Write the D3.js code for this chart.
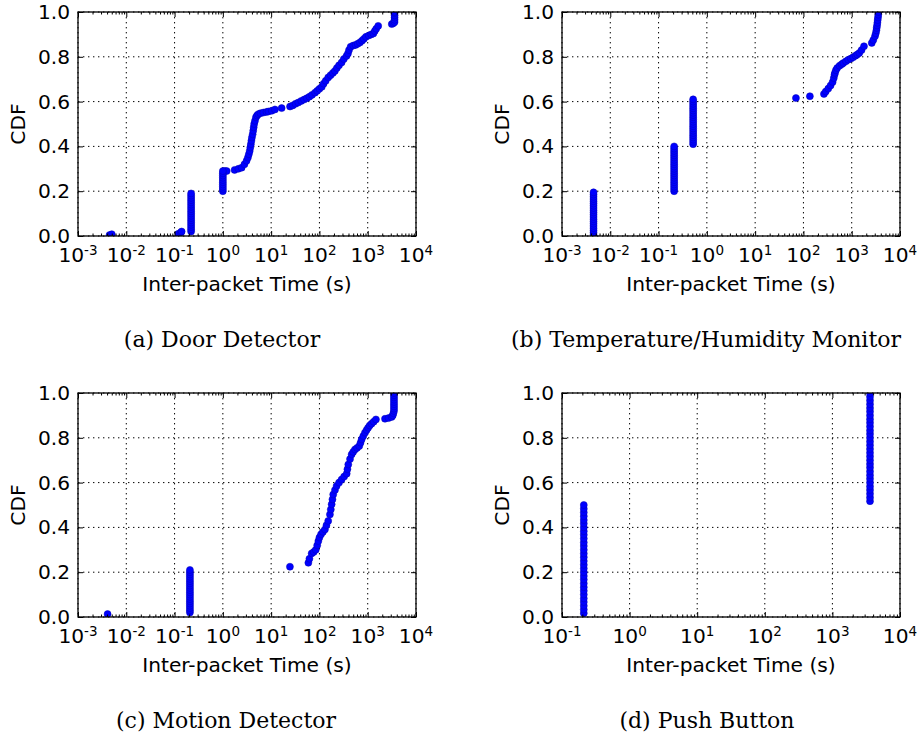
<!DOCTYPE html>
<html lang="en">
<head>
<meta charset="UTF-8" />
<title>Inter-packet Time CDF</title>
<script src="https://d3js.org/d3.v7.min.js"></script>
<style>
  body { margin: 0; background: #fff; }
  .grid line { stroke: #000; stroke-width: 1; stroke-dasharray: 1.4, 3.6; }
  .frame { fill: none; stroke: #000; stroke-width: 1.3; }
  .tick line { stroke: #000; stroke-width: 1; }
  .dot { fill: #0000ff; stroke: #0000b4; stroke-width: 0.5; }
</style>
</head>
<body>
<div id="chart"></div>
<script>
// ---- data ----
var yTicks = [0, 0.2, 0.4, 0.6, 0.8, 1.0];
var xLabel = "Inter-packet Time (s)";
var yLabel = "CDF";
var captions = ["(a) Door Detector", "(b) Temperature/Humidity Monitor", "(c) Motion Detector", "(d) Push Button"];
var xDomains = [[1e-3, 1e4], [1e-3, 1e4], [1e-3, 1e4], [1e-1, 1e4]];

// (a) door detector: single points [seconds, cdf] and vertical runs [seconds, [cdf...]]
var doorPoints = [
  [0.0045, 0.004], [0.005, 0.008], [0.12, 0.01], [0.135, 0.016], [0.14, 0.02],
  [1.1, 0.29], [1.2, 0.29], [1.75, 0.295], [2.1, 0.3], [2.45, 0.305], [2.8, 0.32],
  [3.1, 0.336], [3.3, 0.35], [3.45, 0.365], [3.6, 0.38], [3.7, 0.395], [3.8, 0.41],
  [3.9, 0.425], [4.0, 0.44], [4.14, 0.454], [4.25, 0.47], [4.35, 0.485], [4.45, 0.5],
  [4.63, 0.514], [4.85, 0.53], [5.1, 0.538], [5.42, 0.544], [6.0, 0.548], [6.9, 0.551],
  [8.0, 0.554], [8.8, 0.556], [10.3, 0.559], [12, 0.565], [16.5, 0.571], [24.6, 0.578],
  [28, 0.583], [32, 0.59], [36.5, 0.596], [42, 0.603], [48, 0.609], [54.5, 0.615],
  [62, 0.622], [70, 0.63], [81, 0.64], [90, 0.648], [100, 0.657], [112, 0.666],
  [122, 0.68], [135, 0.693], [152, 0.708], [170, 0.718], [190, 0.728], [209, 0.737],
  [230, 0.75], [255, 0.762], [288, 0.775], [320, 0.79], [364, 0.804], [390, 0.815],
  [410, 0.83], [443, 0.845], [500, 0.85], [560, 0.853], [620, 0.858], [690, 0.864],
  [760, 0.872], [830, 0.88], [918, 0.889], [1050, 0.895], [1180, 0.9], [1310, 0.904],
  [1400, 0.915], [1500, 0.925], [1650, 0.938], [3150, 0.946], [3400, 0.95]
];
var doorRuns = [
  [0.22, [0.02, 0.03, 0.04, 0.05, 0.06, 0.07, 0.08, 0.09, 0.1, 0.11, 0.12, 0.13, 0.14, 0.15, 0.16, 0.17, 0.18, 0.19]],
  [1.0, [0.2, 0.21, 0.22, 0.23, 0.24, 0.25, 0.26, 0.27, 0.28, 0.29]],
  [3600, [0.955, 0.965, 0.975, 0.985, 0.995, 1.0]]
];

// (b) temperature / humidity monitor
var tempPoints = [
  [70, 0.616], [136, 0.624],
  [266, 0.634], [290, 0.645], [327, 0.658], [365, 0.672], [403, 0.6875], [425, 0.705],
  [440, 0.72], [450, 0.728], [470, 0.74], [500, 0.75], [560, 0.76], [620, 0.767],
  [670, 0.772], [760, 0.78], [850, 0.787], [960, 0.792], [1070, 0.798], [1200, 0.805],
  [1300, 0.81], [1435, 0.817], [1600, 0.83], [1795, 0.847],
  [2600, 0.862], [2800, 0.875], [3030, 0.892], [3150, 0.905], [3250, 0.918], [3290, 0.929],
  [3350, 0.94], [3400, 0.952], [3450, 0.964], [3500, 0.976], [3550, 0.988], [3600, 1.0]
];
var tempRuns = [
  [0.0045, [0.005, 0.015, 0.025, 0.035, 0.045, 0.055, 0.065, 0.075, 0.085, 0.095, 0.105, 0.115, 0.125, 0.135, 0.145, 0.155, 0.165, 0.175, 0.185, 0.195]],
  [0.21, [0.2, 0.21, 0.22, 0.23, 0.24, 0.25, 0.26, 0.27, 0.28, 0.29, 0.3, 0.31, 0.32, 0.33, 0.34, 0.35, 0.36, 0.37, 0.38, 0.39, 0.4]],
  [0.52, [0.41, 0.42, 0.43, 0.44, 0.45, 0.46, 0.47, 0.48, 0.49, 0.5, 0.51, 0.52, 0.53, 0.54, 0.55, 0.56, 0.57, 0.58, 0.59, 0.6, 0.61]]
];

// (c) motion detector
var motionPoints = [
  [0.0041, 0.013], [24.5, 0.2245],
  [59, 0.242], [62, 0.26], [69, 0.284], [76, 0.29], [84, 0.3], [90, 0.32], [95, 0.339],
  [100, 0.355], [108, 0.369], [118, 0.38], [130, 0.391], [140, 0.41], [152, 0.429],
  [165, 0.458], [172, 0.48], [179, 0.503], [186, 0.525], [193, 0.547], [210, 0.567],
  [227, 0.585], [255, 0.6], [288, 0.614], [325, 0.627], [367, 0.64], [380, 0.66],
  [396, 0.681], [430, 0.705], [464, 0.726], [500, 0.737], [545, 0.748], [600, 0.755],
  [668, 0.763], [710, 0.778], [750, 0.793], [810, 0.808], [877, 0.823], [950, 0.835],
  [1020, 0.845], [1100, 0.855], [1200, 0.863], [1330, 0.872], [1480, 0.882],
  [2280, 0.885], [2700, 0.888], [3130, 0.893], [3300, 0.9], [3400, 0.91]
];
var motionRuns = [
  [0.208, [0.02, 0.03, 0.04, 0.05, 0.06, 0.07, 0.08, 0.09, 0.1, 0.11, 0.12, 0.13, 0.14, 0.15, 0.16, 0.17, 0.18, 0.19, 0.2, 0.21]],
  [3500, [0.92, 0.93, 0.94, 0.95, 0.96, 0.97, 0.98, 0.99, 1.0]]
];

// (d) push button
var buttonPoints = [];
var buttonRuns = [
  [0.21, [0.017, 0.033, 0.05, 0.067, 0.083, 0.1, 0.117, 0.133, 0.15, 0.167, 0.183, 0.2, 0.217, 0.233, 0.25,
          0.267, 0.283, 0.3, 0.317, 0.333, 0.35, 0.367, 0.383, 0.4, 0.417, 0.433, 0.45, 0.467, 0.483, 0.5]],
  [3600, [0.517, 0.533, 0.55, 0.567, 0.583, 0.6, 0.617, 0.633, 0.65, 0.667, 0.683, 0.7, 0.717, 0.733, 0.75,
          0.767, 0.783, 0.8, 0.817, 0.833, 0.85, 0.867, 0.883, 0.9, 0.917, 0.933, 0.95, 0.967, 0.983, 1.0]]
];

var panelPoints = [doorPoints, tempPoints, motionPoints, buttonPoints];
var panelRuns = [doorRuns, tempRuns, motionRuns, buttonRuns];

// ---- layout ----
var W = 919, H = 737;
var width = 338, height = 224;
var origins = [{ x: 78, y: 12 }, { x: 562, y: 12 }, { x: 78, y: 393 }, { x: 562, y: 393 }];
var captionOffsetX = [144, 144, 148, 145];
var fontSize = 20.2;

var svg = d3.select("#chart").append("svg").attr("width", W).attr("height", H);

function drawPanel(i) {
  var o = origins[i];
  var g = svg.append("g").attr("transform", "translate(" + o.x + "," + o.y + ")");

  var x = d3.scaleLog().domain(xDomains[i]).range([0, width]);
  var y = d3.scaleLinear().domain([0, 1]).range([height, 0]);

  var lo = Math.round(Math.log10(xDomains[i][0])), hi = Math.round(Math.log10(xDomains[i][1]));
  var decades = d3.range(lo, hi + 1);
  var majors = decades.map((p) => Math.pow(10, p));
  var minors = [];
  decades.slice(0, -1).forEach((p) => {
    for (var k = 2; k <= 9; k++) minors.push(k * Math.pow(10, p));
  });

  // grid
  var grid = g.append("g").attr("class", "grid");
  grid.selectAll(".gx").data(majors).enter().append("line")
    .attr("x1", (d) => x(d)).attr("x2", (d) => x(d))
    .attr("y1", 0).attr("y2", height);
  grid.selectAll(".gy").data(yTicks).enter().append("line")
    .attr("x1", 0).attr("x2", width)
    .attr("y1", (d) => y(d)).attr("y2", (d) => y(d));

  // points, clipped to axes
  var clipId = "clip" + i;
  g.append("clipPath").attr("id", clipId).append("rect")
    .attr("width", width).attr("height", height);
  var pts = panelPoints[i].concat(
    panelRuns[i].flatMap((r) => r[1].map((v) => [r[0], v]))
  );
  g.append("g").attr("clip-path", "url(#" + clipId + ")")
    .selectAll("circle").data(pts).enter().append("circle")
    .attr("class", "dot")
    .attr("cx", (d) => x(d[0]))
    .attr("cy", (d) => y(d[1]))
    .attr("r", 3.5);

  // ticks (inside, all four sides)
  function ticks(axis, tr) {
    var a = g.append("g").attr("transform", tr || null).call(axis);
    a.select(".domain").remove();
    return a;
  }
  ticks(d3.axisBottom(x).tickValues(majors).tickSizeInner(-5).tickSizeOuter(0).tickFormat(""), "translate(0," + height + ")");
  ticks(d3.axisBottom(x).tickValues(minors).tickSizeInner(-2.5).tickSizeOuter(0).tickFormat(""), "translate(0," + height + ")");
  ticks(d3.axisTop(x).tickValues(majors).tickSizeInner(-5).tickSizeOuter(0).tickFormat(""));
  ticks(d3.axisTop(x).tickValues(minors).tickSizeInner(-2.5).tickSizeOuter(0).tickFormat(""));
  ticks(d3.axisRight(y).tickValues(yTicks).tickSizeInner(-5).tickSizeOuter(0).tickFormat(""), "translate(" + width + ",0)");
  var left = ticks(d3.axisLeft(y).tickValues(yTicks).tickSizeInner(-5).tickSizeOuter(0)
    .tickPadding(8).tickFormat(d3.format(".1f")));
  left.attr("font-family", "DejaVu Sans").attr("font-size", fontSize);

  // x tick labels as 10^n
  g.append("g").selectAll("text").data(decades).enter().append("text")
    .attr("x", (p) => x(Math.pow(10, p)))
    .attr("y", height + 26)
    .attr("text-anchor", "middle")
    .attr("font-family", "DejaVu Sans")
    .attr("font-size", fontSize)
    .each(function (p) {
      var t = d3.select(this);
      t.append("tspan").text("10");
      t.append("tspan").attr("font-size", 13.5).attr("dy", -7.5).text(String(p));
    });

  // frame
  g.append("rect").attr("class", "frame").attr("width", width).attr("height", height);

  // axis titles
  g.append("text")
    .attr("x", width / 2).attr("y", height + 55)
    .attr("text-anchor", "middle")
    .attr("font-family", "DejaVu Sans").attr("font-size", fontSize)
    .text(xLabel);
  g.append("text")
    .attr("transform", "translate(-53," + height / 2 + ") rotate(-90)")
    .attr("text-anchor", "middle")
    .attr("font-family", "DejaVu Sans").attr("font-size", fontSize)
    .text(yLabel);

  // caption
  g.append("text")
    .attr("x", captionOffsetX[i]).attr("y", 335)
    .attr("text-anchor", "middle")
    .attr("font-family", "DejaVu Serif").attr("font-size", 22)
    .text(captions[i]);
}

for (var i = 0; i < 4; i++) drawPanel(i);
</script>
</body>
</html>
